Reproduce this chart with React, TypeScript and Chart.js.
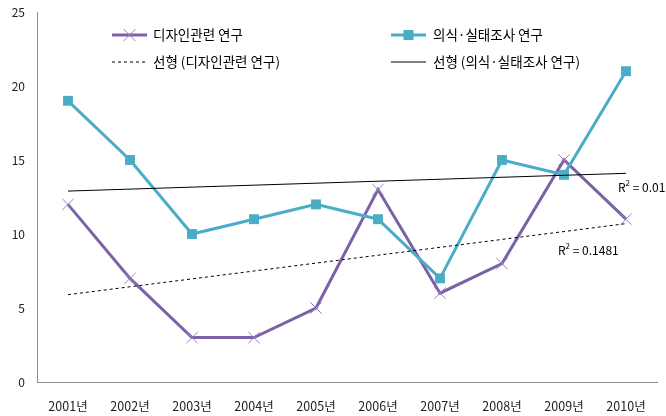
import React, { useEffect, useRef } from "react";
import { Chart, registerables } from "chart.js";

Chart.register(...registerables);

const years = ["2001년", "2002년", "2003년", "2004년", "2005년", "2006년", "2007년", "2008년", "2009년", "2010년"];
const designStudies = [12, 7, 3, 3, 5, 13, 6, 8, 15, 11];
const surveyStudies = [19, 15, 10, 11, 12, 11, 7, 15, 14, 21];
// linear trend lines (end points)
const designTrend = [5.9, null, null, null, null, null, null, null, null, 10.7];
const surveyTrend = [12.9, null, null, null, null, null, null, null, null, 14.1];
const seriesNames = ["디자인관련 연구", "의식·실태조사 연구", "선형 (디자인관련 연구)", "선형 (의식·실태조사 연구)"];
const r2Values = ["0.1481", "0.01"];

const PURPLE = "#7B62A8";
const PURPLE_MARK = "#9583BD";
const TEAL = "#4BACC6";
const FONT = "'Noto Sans CJK KR', 'Noto Sans', sans-serif";

const overlayPlugin = {
  id: "overlay",
  afterDraw(chart: any) {
    const ctx = chart.ctx as CanvasRenderingContext2D;
    ctx.save();
    const drawText = (t: string, x: number, y: number) => {
      ctx.font = `13.5px ${FONT}`;
      ctx.fillStyle = "#000";
      ctx.textAlign = "left";
      ctx.textBaseline = "middle";
      ctx.fillText(t, x, y);
    };
    const line = (x1: number, x2: number, y: number, color: string, w: number, dash: number[]) => {
      ctx.beginPath();
      ctx.setLineDash(dash);
      ctx.strokeStyle = color;
      ctx.lineWidth = w;
      ctx.moveTo(x1, y);
      ctx.lineTo(x2, y);
      ctx.stroke();
      ctx.setLineDash([]);
    };
    const r1 = 35, r2 = 62;
    const c1 = 112, c2 = 391, len = 35;
    // purple
    line(c1, c1 + len, r1, PURPLE, 3, []);
    ctx.beginPath();
    ctx.strokeStyle = PURPLE_MARK;
    ctx.lineWidth = 1;
    const mx = c1 + len / 2;
    ctx.moveTo(mx - 6, r1 - 6); ctx.lineTo(mx + 6, r1 + 6);
    ctx.moveTo(mx - 6, r1 + 6); ctx.lineTo(mx + 6, r1 - 6);
    ctx.stroke();
    drawText(seriesNames[0], c1 + len + 6, r1);
    // dashed
    line(c1, c1 + len, r2, "#000", 1, [3, 3]);
    drawText(seriesNames[2], c1 + len + 6, r2);
    // teal
    line(c2, c2 + len, r1, TEAL, 3, []);
    ctx.fillStyle = TEAL;
    ctx.fillRect(c2 + len / 2 - 5, r1 - 5, 10, 10);
    drawText(seriesNames[1], c2 + len + 7, r1);
    // solid trend
    line(c2, c2 + len, r2, "#000", 1, []);
    drawText(seriesNames[3], c2 + len + 7, r2);

    // R² labels
    const drawR2 = (val: string, x: number, y: number) => {
      ctx.fillStyle = "#000";
      ctx.textAlign = "left";
      ctx.textBaseline = "middle";
      ctx.font = `12px ${FONT}`;
      ctx.fillText("R", x, y);
      const w = ctx.measureText("R").width;
      ctx.font = `8px ${FONT}`;
      ctx.fillText("2", x + w, y - 4);
      const w2 = ctx.measureText("2").width;
      ctx.font = `12px ${FONT}`;
      ctx.fillText(" = " + val, x + w + w2, y);
    };
    drawR2(r2Values[0], 558, 250);
    drawR2(r2Values[1], 618, 187);
    ctx.restore();
  },
};

export default function App() {
  const ref = useRef<HTMLCanvasElement | null>(null);
  useEffect(() => {
    document.body.style.margin = "0";
    const chart = new Chart(ref.current as HTMLCanvasElement, {
      type: "line",
      data: {
        labels: years,
        datasets: [
          {
            label: seriesNames[3],
            data: surveyTrend,
            borderColor: "#000",
            borderWidth: 1,
            pointRadius: 0,
            spanGaps: true,
            fill: false,
          },
          {
            label: seriesNames[2],
            data: designTrend,
            borderColor: "#000",
            borderWidth: 1,
            borderDash: [3, 3],
            pointRadius: 0,
            spanGaps: true,
            fill: false,
          },
          {
            label: seriesNames[1],
            data: surveyStudies,
            borderColor: TEAL,
            backgroundColor: TEAL,
            borderWidth: 3,
            pointStyle: "rect",
            pointRadius: 7,
            pointBorderWidth: 0,
            pointBackgroundColor: TEAL,
            fill: false,
          },
          {
            label: seriesNames[0],
            data: designStudies,
            borderColor: PURPLE,
            borderWidth: 3,
            pointStyle: "crossRot",
            pointRadius: 8,
            pointBorderWidth: 1,
            pointBorderColor: PURPLE_MARK,
            fill: false,
          },
        ],
      },
      options: {
        responsive: false,
        animation: false,
        layout: { padding: { top: 12, right: 5, left: 0, bottom: 0 } },
        plugins: { legend: { display: false }, tooltip: { enabled: false } },
        scales: {
          x: {
            offset: true,
            grid: { display: true, drawOnChartArea: false, drawTicks: false },
            border: { display: true, color: "#8C8C8C", width: 1 },
            ticks: { font: { family: FONT, size: 12.5 }, color: "#222", padding: 17, maxRotation: 0 },
            afterFit: (s: any) => { s.height = 34; s.paddingLeft = 0; s.paddingRight = 0; },
          },
          y: {
            min: 0,
            max: 25,
            grid: { display: true, drawOnChartArea: false, drawTicks: false },
            border: { display: true, color: "#8C8C8C", width: 1 },
            ticks: { stepSize: 5, font: { family: FONT, size: 12 }, color: "#222", padding: 12 },
            afterFit: (s: any) => { s.width = 37; s.paddingTop = 0; s.paddingBottom = 0; },
          },
        },
      },
      plugins: [overlayPlugin],
    });
    return () => chart.destroy();
  }, []);
  return (
    <div style={{ width: 666, height: 416 }}>
      <canvas ref={ref} width={666} height={416} />
    </div>
  );
}
